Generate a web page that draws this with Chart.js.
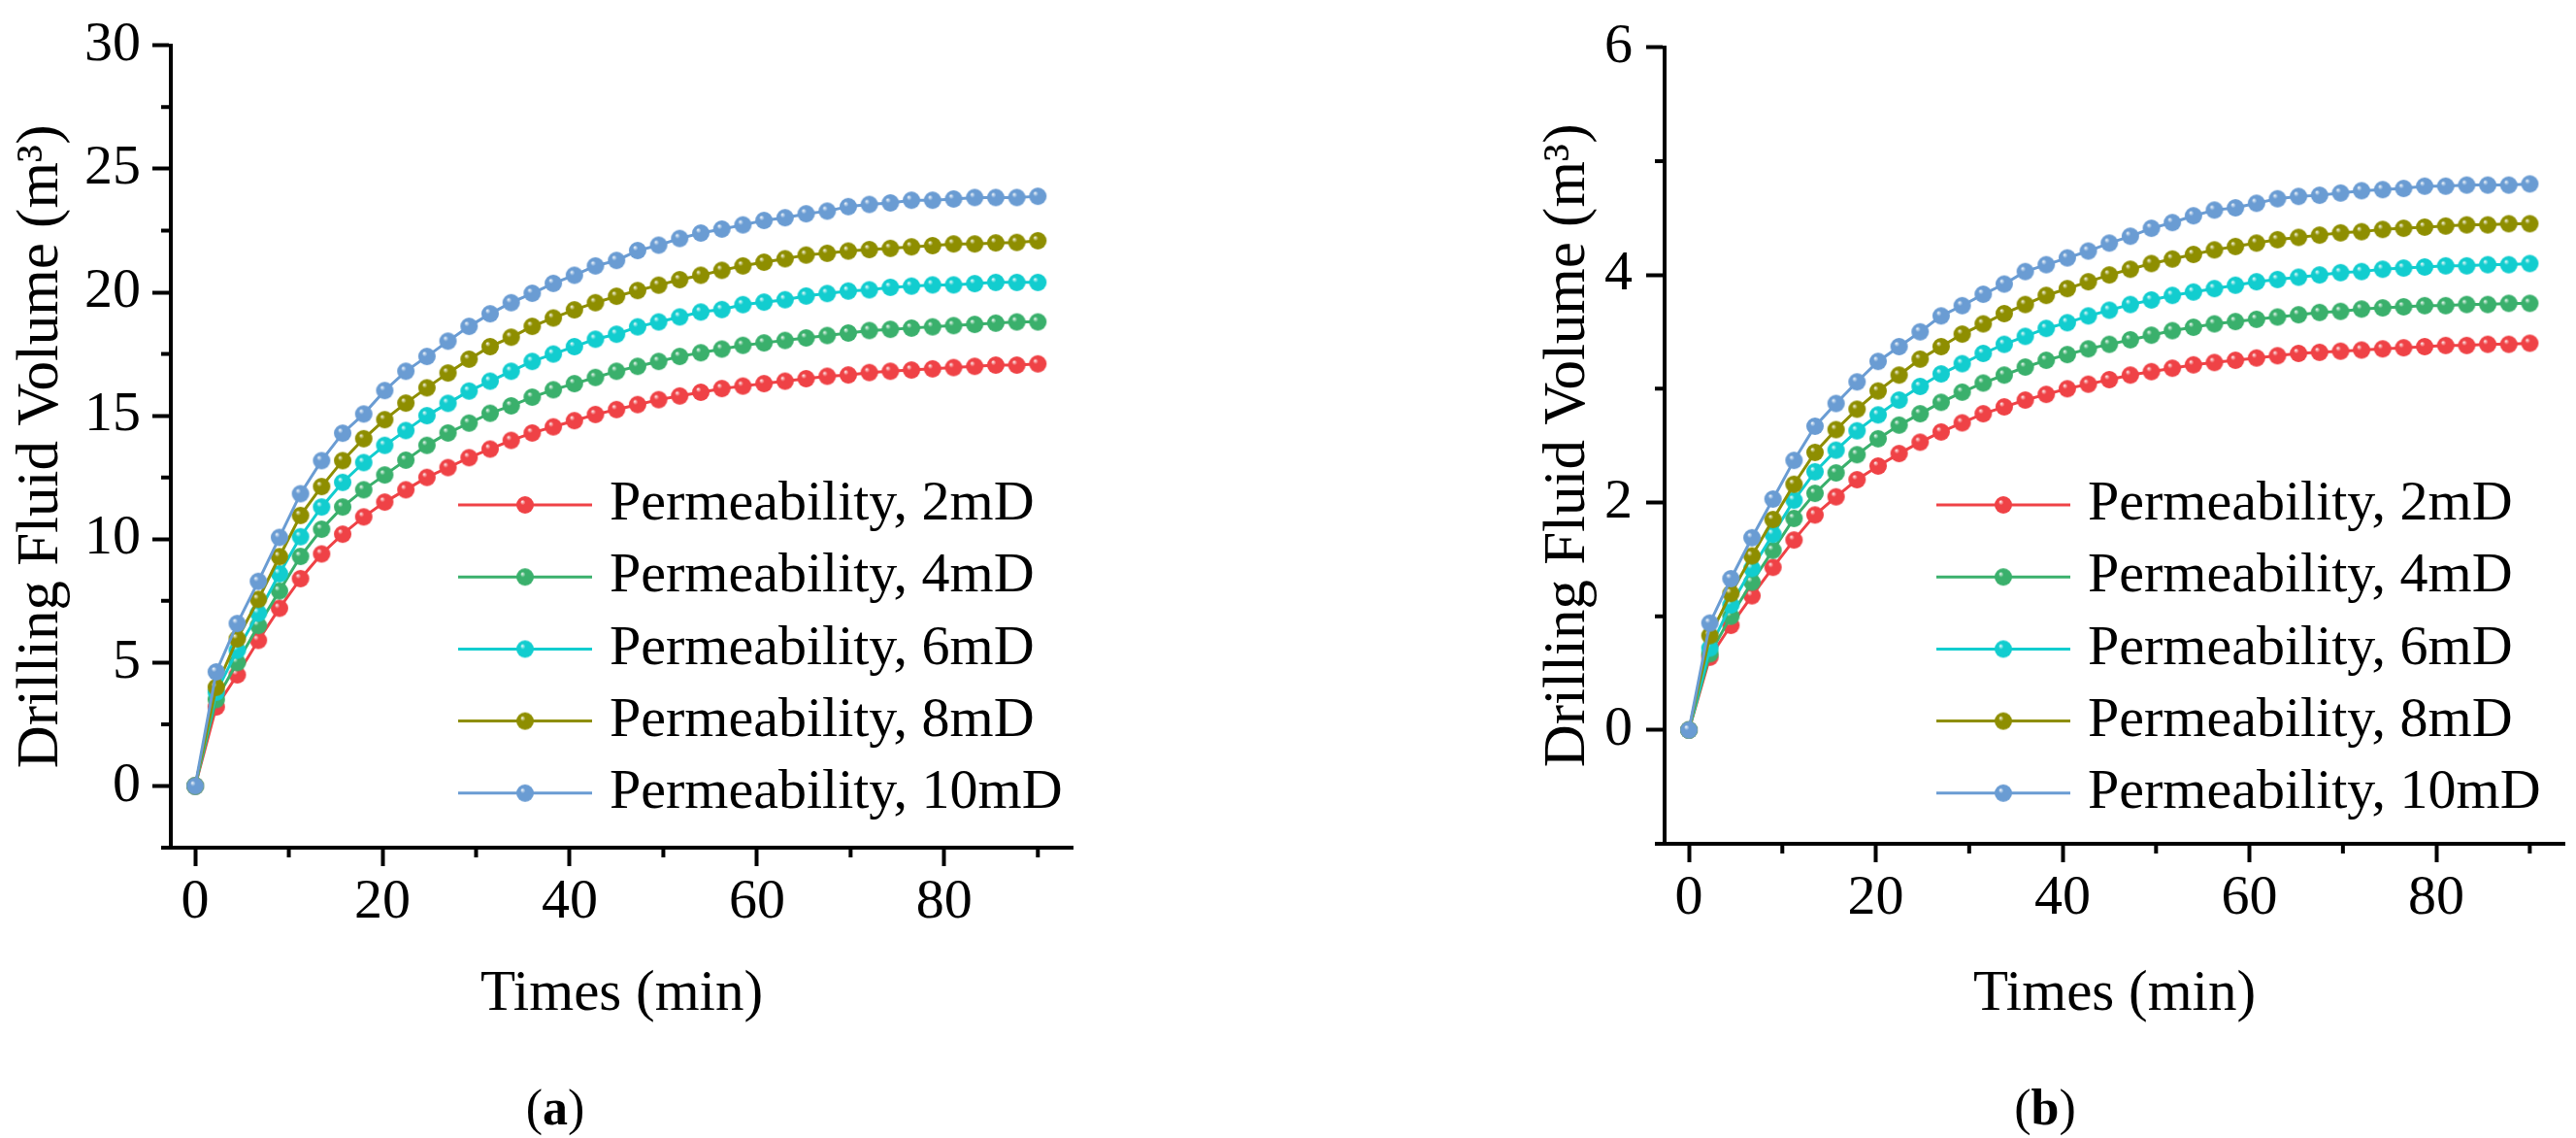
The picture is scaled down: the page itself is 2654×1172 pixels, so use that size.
<!DOCTYPE html>
<html lang="en">

<head>
    <meta charset="UTF-8">
    <title>Drilling fluid volume vs time</title>
    <script src="https://cdn.jsdelivr.net/npm/chart.js"></script>
    <style>
        body { margin: 0; background: #fff; width: 2654px; height: 1172px; position: relative; overflow: hidden; }
        canvas { position: absolute; top: 0; }
        .sub { position: absolute; top: 1140px; transform: translate(-50%, -50%); font: 52px 'Liberation Serif', 'Times New Roman', serif; color: #000; }
    </style>
</head>

<body>
    <canvas id="chartA" width="1136" height="1172" style="left:0"></canvas>
    <canvas id="chartB" width="1094" height="1172" style="left:1560px"></canvas>
    <div class="sub" style="left:572px">(<b>a</b>)</div>
    <div class="sub" style="left:2107px">(<b>b</b>)</div>

    <script>
        // time axis (min)
        const times = [0, 2.25, 4.5, 6.75, 9, 11.25, 13.5, 15.75, 18, 20.25, 22.5, 24.75, 27, 29.25, 31.5, 33.75,
            36, 38.25, 40.5, 42.75, 45, 47.25, 49.5, 51.75, 54, 56.25, 58.5, 60.75, 63, 65.25, 67.5, 69.75,
            72, 74.25, 76.5, 78.75, 81, 83.25, 85.5, 87.75, 90];

        const seriesLabels = ['Permeability, 2mD', 'Permeability, 4mD', 'Permeability, 6mD', 'Permeability, 8mD', 'Permeability, 10mD'];

        // panel (a)
        const a2mD = [0, 3.2, 4.5, 5.9, 7.2, 8.4, 9.4, 10.2, 10.9, 11.5, 12.0, 12.5, 12.9, 13.3, 13.65, 14.0,
            14.3, 14.55, 14.8, 15.05, 15.25, 15.45, 15.65, 15.8, 15.95, 16.1, 16.2, 16.3, 16.4, 16.5, 16.6, 16.65,
            16.75, 16.8, 16.85, 16.9, 16.95, 17.0, 17.05, 17.05, 17.1];
        const a4mD = [0, 3.5, 5.0, 6.5, 7.9, 9.3, 10.4, 11.3, 12.0, 12.6, 13.2, 13.8, 14.3, 14.7, 15.1, 15.4,
            15.75, 16.05, 16.3, 16.55, 16.8, 17.0, 17.2, 17.4, 17.55, 17.7, 17.85, 17.95, 18.05, 18.15, 18.25, 18.35,
            18.45, 18.5, 18.55, 18.6, 18.65, 18.7, 18.75, 18.8, 18.8];
        const a6mD = [0, 3.8, 5.5, 7.0, 8.6, 10.1, 11.3, 12.3, 13.1, 13.8, 14.4, 15.0, 15.5, 16.0, 16.4, 16.8,
            17.2, 17.5, 17.8, 18.1, 18.3, 18.6, 18.8, 19.0, 19.2, 19.3, 19.5, 19.6, 19.7, 19.85, 19.95, 20.05,
            20.1, 20.2, 20.25, 20.3, 20.3, 20.35, 20.4, 20.4, 20.4];
        const a8mD = [0, 4.0, 5.96, 7.56, 9.29, 10.96, 12.13, 13.18, 14.07, 14.84, 15.51, 16.13, 16.73, 17.29, 17.8, 18.18,
            18.62, 18.96, 19.29, 19.58, 19.84, 20.07, 20.29, 20.51, 20.69, 20.89, 21.07, 21.22, 21.36, 21.51, 21.58, 21.67,
            21.73, 21.78, 21.84, 21.89, 21.96, 21.96, 22.0, 22.02, 22.09];
        const a10mD = [0, 4.62, 6.58, 8.29, 10.07, 11.84, 13.18, 14.29, 15.07, 16.02, 16.8, 17.4, 18.02, 18.62, 19.13, 19.58,
            19.96, 20.36, 20.69, 21.07, 21.29, 21.69, 21.91, 22.18, 22.4, 22.56, 22.73, 22.91, 23.02, 23.18, 23.29, 23.47,
            23.56, 23.62, 23.73, 23.73, 23.78, 23.84, 23.84, 23.84, 23.89];

        // panel (b)
        const b2mD = [0, 0.64, 0.92, 1.18, 1.43, 1.67, 1.89, 2.05, 2.2, 2.32, 2.43, 2.53, 2.62, 2.7, 2.78, 2.84,
            2.9, 2.95, 3.0, 3.04, 3.08, 3.12, 3.15, 3.18, 3.21, 3.23, 3.25, 3.27, 3.29, 3.31, 3.32, 3.33,
            3.34, 3.35, 3.36, 3.37, 3.38, 3.38, 3.39, 3.39, 3.4];
        const b4mD = [0, 0.67, 1.0, 1.3, 1.58, 1.86, 2.08, 2.26, 2.42, 2.56, 2.68, 2.78, 2.88, 2.97, 3.05, 3.12,
            3.19, 3.25, 3.3, 3.35, 3.39, 3.43, 3.47, 3.51, 3.54, 3.57, 3.59, 3.61, 3.63, 3.65, 3.67, 3.68,
            3.7, 3.71, 3.72, 3.73, 3.73, 3.74, 3.74, 3.75, 3.75];
        const b6mD = [0, 0.72, 1.1, 1.42, 1.72, 2.02, 2.27, 2.46, 2.63, 2.77, 2.9, 3.02, 3.13, 3.22, 3.31, 3.39,
            3.46, 3.53, 3.58, 3.64, 3.69, 3.74, 3.78, 3.82, 3.85, 3.88, 3.91, 3.94, 3.96, 3.98, 4.0, 4.02,
            4.03, 4.05, 4.06, 4.07, 4.08, 4.08, 4.09, 4.09, 4.1];
        const b8mD = [0, 0.83, 1.2, 1.53, 1.85, 2.16, 2.44, 2.64, 2.82, 2.98, 3.12, 3.26, 3.37, 3.48, 3.57, 3.66,
            3.74, 3.82, 3.88, 3.94, 4.0, 4.05, 4.1, 4.14, 4.18, 4.22, 4.25, 4.28, 4.31, 4.33, 4.35, 4.37,
            4.38, 4.4, 4.41, 4.42, 4.43, 4.44, 4.44, 4.45, 4.45];
        const b10mD = [0, 0.94, 1.33, 1.69, 2.03, 2.37, 2.67, 2.87, 3.06, 3.24, 3.37, 3.5, 3.64, 3.73, 3.83, 3.92,
            4.03, 4.09, 4.15, 4.21, 4.28, 4.34, 4.41, 4.46, 4.52, 4.57, 4.59, 4.63, 4.67, 4.69, 4.7, 4.72,
            4.74, 4.75, 4.76, 4.78, 4.78, 4.79, 4.79, 4.79, 4.8];

        // tick labels
        const xTicks = [0, 20, 40, 60, 80];
        const xMinor = [10, 30, 50, 70, 90];
        const yTicksA = [0, 5, 10, 15, 20, 25, 30];
        const yMinorA = [2.5, 7.5, 12.5, 17.5, 22.5, 27.5];
        const yTicksB = [0, 2, 4, 6];
        const yMinorB = [1, 3, 5];

        const seriesColors = ['#EF4246', '#3AB06C', '#12CDCF', '#8E8E00', '#6A9CD3'];
        const FONT = "'Liberation Serif', 'Times New Roman', serif";

        // little shaded ball for the markers
        function makeBall(color, r) {
            const c = document.createElement('canvas');
            c.width = c.height = 2 * r + 2;
            const g = c.getContext('2d');
            const cx = r + 1, cy = r + 1;
            const grad = g.createRadialGradient(cx - r * 0.35, cy - r * 0.4, 0, cx, cy, r);
            grad.addColorStop(0, '#ffffff');
            grad.addColorStop(0.3, color);
            grad.addColorStop(1, color);
            g.fillStyle = grad;
            g.beginPath();
            g.arc(cx, cy, r, 0, Math.PI * 2);
            g.fill();
            return c;
        }
        const balls = seriesColors.map(c => makeBall(c, 9));

        // minor ticks, axis stub and the in-plot legend
        const extras = {
            id: 'extras',
            afterDraw(chart, args, o) {
                const { ctx, chartArea: a, scales: { x, y } } = chart;
                ctx.save();
                ctx.strokeStyle = '#000';
                ctx.lineWidth = 4;
                ctx.beginPath();
                o.minorX.forEach(v => {
                    const px = x.getPixelForValue(v);
                    ctx.moveTo(px, a.bottom);
                    ctx.lineTo(px, a.bottom + 10);
                });
                o.minorY.forEach(v => {
                    const py = y.getPixelForValue(v);
                    ctx.moveTo(a.left, py);
                    ctx.lineTo(a.left - 10, py);
                });
                // x axis runs a bit past the y axis
                ctx.moveTo(a.left - 10, a.bottom);
                ctx.lineTo(a.left, a.bottom);
                ctx.stroke();

                ctx.font = '58px ' + FONT;
                ctx.textBaseline = 'middle';
                ctx.fillStyle = '#000';
                chart.data.datasets.forEach((ds, i) => {
                    const cy = o.legendY + i * o.legendGap;
                    const x0 = o.legendX - 156;
                    ctx.strokeStyle = ds.borderColor;
                    ctx.lineWidth = 3;
                    ctx.beginPath();
                    ctx.moveTo(x0, cy);
                    ctx.lineTo(x0 + 138, cy);
                    ctx.stroke();
                    const b = ds.pointStyle;
                    ctx.drawImage(b, x0 + 69 - b.width / 2, cy - b.height / 2);
                    ctx.fillText(ds.label, o.legendX, cy);
                });
                ctx.restore();
            }
        };

        function makeChart(id, series, cfg) {
            const datasets = series.map((vals, i) => ({
                label: seriesLabels[i],
                data: times.map((t, k) => ({ x: t, y: vals[k] })),
                borderColor: seriesColors[i],
                backgroundColor: seriesColors[i],
                borderWidth: 3,
                pointStyle: balls[i],
                pointRadius: 9,
                tension: 0,
                order: series.length - i
            }));

            return new Chart(document.getElementById(id), {
                type: 'line',
                data: { datasets },
                options: {
                    responsive: false,
                    animation: false,
                    layout: { padding: { top: cfg.padTop, right: cfg.padRight, bottom: 0, left: 0 } },
                    plugins: {
                        legend: { display: false },
                        tooltip: { enabled: false },
                        extras: {
                            minorX: xMinor,
                            minorY: cfg.yMinor,
                            legendX: cfg.legendX,
                            legendY: 520,
                            legendGap: 74.2
                        }
                    },
                    scales: {
                        x: {
                            type: 'linear',
                            min: -2.6,
                            max: 93.7,
                            afterBuildTicks: s => { s.ticks = xTicks.map(v => ({ value: v })); },
                            afterFit: s => { s.height = cfg.xAxisHeight; },
                            grid: { drawOnChartArea: false, drawTicks: true, tickLength: 19, tickWidth: 4, tickColor: '#000' },
                            border: { display: true, width: 4, color: '#000' },
                            ticks: { color: '#000', padding: 3, maxRotation: 0, font: { family: FONT, size: 58 } },
                            title: {
                                display: true,
                                text: 'Times (min)',
                                color: '#000',
                                font: { family: FONT, size: 59 },
                                padding: { top: 0, bottom: 112 }
                            }
                        },
                        y: {
                            type: 'linear',
                            min: cfg.yMin,
                            max: cfg.yMax,
                            afterBuildTicks: s => { s.ticks = cfg.yTicks.map(v => ({ value: v })); },
                            afterFit: s => { s.width = cfg.yAxisWidth; },
                            grid: { drawOnChartArea: false, drawTicks: true, tickLength: 19, tickWidth: 4, tickColor: '#000' },
                            border: { display: true, width: 4, color: '#000' },
                            ticks: { color: '#000', padding: cfg.yTickPad, font: { family: FONT, size: 58 } },
                            title: {
                                display: true,
                                text: 'Drilling Fluid Volume (m³)',
                                color: '#000',
                                font: { family: FONT, size: 61 },
                                padding: { top: cfg.yTitlePad, bottom: 0 }
                            }
                        }
                    }
                },
                plugins: [extras]
            });
        }

        makeChart('chartA', [a2mD, a4mD, a6mD, a8mD, a10mD], {
            yMin: -2.5, yMax: 30, yTicks: yTicksA, yMinor: yMinorA,
            padTop: 33, padRight: 31, yAxisWidth: 176, xAxisHeight: 299,
            yTickPad: 12, yTitlePad: 6, legendX: 628
        });

        makeChart('chartB', [b2mD, b4mD, b6mD, b8mD, b10mD], {
            yMin: -1, yMax: 6, yTicks: yTicksB, yMinor: yMinorB,
            padTop: 30, padRight: 10, yAxisWidth: 155, xAxisHeight: 303,
            yTickPad: 14, yTitlePad: 19, legendX: 591
        });
    </script>
</body>

</html>
